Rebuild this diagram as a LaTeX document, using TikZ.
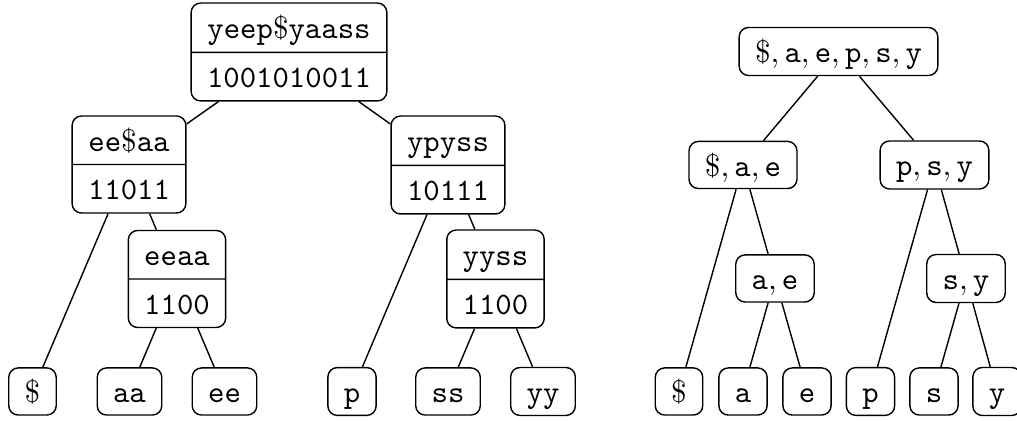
\documentclass[tikz,border=0pt]{standalone}
\usepackage{fontspec}
\usetikzlibrary{shapes.multipart}
% uniform strut so every box part has the same height
\newcommand\lstrut{\rule[-2pt]{0pt}{11.1pt}}
\newcommand\dol{\textrm{\$}}
\begin{document}
\begin{tikzpicture}[x=0.3205pt, y=-0.3205pt,
  box/.style={draw, rounded corners=3pt, inner xsep=5.1pt, inner ysep=2pt,
              font=\ttfamily, line width=0.45pt},
  splitbox/.style={box, rectangle split, rectangle split parts=2},
  edge/.style={draw, line width=0.45pt}]
\useasboundingbox (0,0) rectangle (1017,421);

% ---- wavelet tree over the string ----
\node[splitbox] (L)  at (289,52)    {\lstrut yeep\dol yaass\nodepart{two}\lstrut 1001010011};
\node[splitbox] (La) at (129,164.5) {\lstrut ee\dol aa\nodepart{two}\lstrut 11011};
\node[splitbox] (Lb) at (177,279)   {\lstrut eeaa\nodepart{two}\lstrut 1100};
\node[splitbox] (Lc) at (448,165)   {\lstrut ypyss\nodepart{two}\lstrut 10111};
\node[splitbox] (Ld) at (495.5,279) {\lstrut yyss\nodepart{two}\lstrut 1100};

\node[box] (l1) at (32.5,391.5)  {\lstrut\dol};
\node[box] (l2) at (129.5,391.5) {\lstrut aa};
\node[box] (l3) at (224.5,391.5) {\lstrut ee};
\node[box] (l4) at (352,391.5)   {\lstrut p};
\node[box] (l5) at (448,391.5)   {\lstrut ss};
\node[box] (l6) at (543,391.5)   {\lstrut yy};

\draw[edge] (L) -- (La);
\draw[edge] (L) -- (Lc);
\draw[edge] (La) -- (l1);
\draw[edge] (La) -- (Lb);
\draw[edge] (Lb) -- (l2);
\draw[edge] (Lb) -- (l3);
\draw[edge] (Lc) -- (l4);
\draw[edge] (Lc) -- (Ld);
\draw[edge] (Ld) -- (l5);
\draw[edge] (Ld) -- (l6);

% ---- alphabet partition tree ----
\node[box] (R)  at (838.5,51.5) {\lstrut$\$,\mathtt{a},\mathtt{e},\mathtt{p},\mathtt{s},\mathtt{y}$};
\node[box] (Ra) at (743,165)    {\lstrut$\$,\mathtt{a},\mathtt{e}$};
\node[box] (Rb) at (934.5,165)  {\lstrut$\mathtt{p},\mathtt{s},\mathtt{y}$};
\node[box] (Rc) at (775,278.5)  {\lstrut$\mathtt{a},\mathtt{e}$};
\node[box] (Rd) at (966,278.5)  {\lstrut$\mathtt{s},\mathtt{y}$};

\node[box] (r1) at (679,391.5)   {\lstrut\dol};
\node[box] (r2) at (743,391.5)   {\lstrut a};
\node[box] (r3) at (807,391.5)   {\lstrut e};
\node[box] (r4) at (870.5,391.5) {\lstrut p};
\node[box] (r5) at (934,391.5)   {\lstrut s};
\node[box] (r6) at (997,391.5)   {\lstrut y};

\draw[edge] (R) -- (Ra);
\draw[edge] (R) -- (Rb);
\draw[edge] (Ra) -- (r1);
\draw[edge] (Ra) -- (Rc);
\draw[edge] (Rc) -- (r2);
\draw[edge] (Rc) -- (r3);
\draw[edge] (Rb) -- (r4);
\draw[edge] (Rb) -- (Rd);
\draw[edge] (Rd) -- (r5);
\draw[edge] (Rd) -- (r6);
\end{tikzpicture}
\end{document}
